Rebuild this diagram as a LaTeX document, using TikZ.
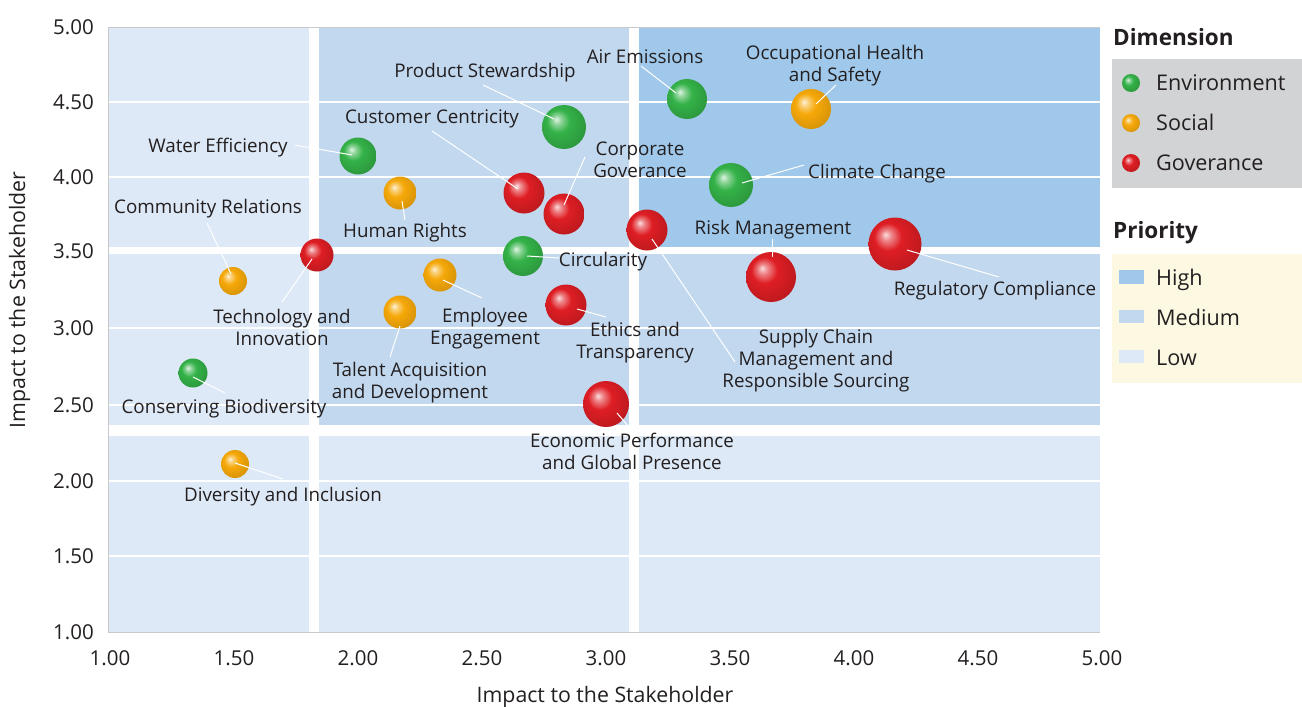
\documentclass[tikz,border=0pt]{standalone}
\usepackage{fontspec}
\setmainfont{Open Sans}
\definecolor{lowc}{RGB}{221,233,246}
\definecolor{medc}{RGB}{194,216,239}
\definecolor{highc}{RGB}{159,200,234}
\definecolor{framec}{RGB}{200,201,205}
\definecolor{txt}{RGB}{35,31,32}
\definecolor{legg}{RGB}{209,211,212}
\definecolor{legc}{RGB}{253,248,225}
\definecolor{envc}{RGB}{52,178,72}
\definecolor{socc}{RGB}{245,168,8}
\definecolor{govc}{RGB}{222,30,36}
\pgfdeclareradialshading{envball}{\pgfpoint{-9bp}{9bp}}{color(0bp)=(envc!15!white); color(5bp)=(envc!55!white); color(13bp)=(envc); color(30bp)=(envc!85!black); color(40bp)=(envc!72!black); color(50bp)=(envc!72!black)}
\pgfdeclareradialshading{socball}{\pgfpoint{-9bp}{9bp}}{color(0bp)=(socc!15!white); color(5bp)=(socc!55!white); color(13bp)=(socc); color(30bp)=(socc!88!black); color(40bp)=(socc!80!black); color(50bp)=(socc!80!black)}
\pgfdeclareradialshading{govball}{\pgfpoint{-9bp}{9bp}}{color(0bp)=(govc!15!white); color(5bp)=(govc!55!white); color(13bp)=(govc); color(30bp)=(govc!85!black); color(40bp)=(govc!75!black); color(50bp)=(govc!75!black)}
\tikzset{
  envb/.style={circle, inner sep=0pt, minimum size=#1, shading=envball},
  socb/.style={circle, inner sep=0pt, minimum size=#1, shading=socball},
  govb/.style={circle, inner sep=0pt, minimum size=#1, shading=govball},
  lbl/.style={text=txt, font=\fontsize{18.8}{22}\selectfont, align=center, anchor=base, inner sep=0pt},
  tick/.style={text=txt, font=\fontsize{20.5}{24}\selectfont, inner sep=0pt},
  axtitle/.style={text=txt, font=\fontsize{21.3}{24}\selectfont, inner sep=0pt, anchor=base},
  legtitle/.style={text=txt, font=\fontsize{22.5}{26}\selectfont\bfseries, inner sep=0pt, anchor=base west},
  legtext/.style={text=txt, font=\fontsize{21.6}{25}\selectfont, inner sep=0pt, anchor=base west},
  lead/.style={white, line width=1pt},
  gridl/.style={white, line width=1.3pt},
  band/.style={fill=white, draw=none},
}
\begin{document}
\begin{tikzpicture}[x=1pt,y=-1pt]
\useasboundingbox (0,0) rectangle (1302,707);
% regions
\fill[lowc] (108,27) rectangle (1100,632);
\fill[medc] (319,27) rectangle (629,247);
\fill[medc] (319,254) rectangle (1100,425);
\fill[highc] (639,27) rectangle (1100,247);
% grid lines
\foreach \gy in {102,177,328,405,481,556} \draw[gridl] (108,\gy) -- (1100,\gy);
% white bands
\fill[band] (309,27) rectangle (319,632);
\fill[band] (629,27) rectangle (639,632);
\fill[band] (108,247) rectangle (1100,254);
\fill[band] (108,425) rectangle (1100,436);
% frame
\draw[framec, line width=1pt] (1100,27) -- (108,27) -- (108,632) -- (1100,632);
% y ticks
\foreach \v/\py in {5.00/27,4.50/102,4.00/177,3.50/251,3.00/328,2.50/405,2.00/481,1.50/556,1.00/632}
  \node[tick, anchor=east] (yt\py) at (94,\py) {\v};
% x ticks
\foreach \v/\px in {1.00/110,1.50/234,2.00/358,2.50/482,3.00/606,3.50/730,4.00/854,4.50/978,5.00/1102}
  \node[tick, anchor=base] (xt\px) at (\px,665) {\v};
\node[axtitle] (xtitle) at (605,702) {Impact to the Stakeholder};
\node[axtitle, rotate=90] (ytitle) at (25,300) {Impact to the Stakeholder};
% bubbles
\node[envb=40] (ae) at (687,99) {};
\node[socb=40] (oh) at (811,109) {};
\node[envb=44] (ps) at (564,127) {};
\node[envb=44] (cc) at (731,185) {};
\node[envb=40] (ci) at (523,256) {};
\node[envb=37] (we) at (358,156) {};
\node[envb=29] (cb) at (193,373) {};
\node[socb=33] (hr) at (400,193) {};
\node[socb=28] (cr) at (233,281) {};
\node[socb=33] (ee) at (440,275) {};
\node[socb=33] (ta) at (400,312) {};
\node[socb=28] (di) at (235,464) {};
\node[govb=41] (cu) at (524,193) {};
\node[govb=41] (cg) at (564,214) {};
\node[govb=50] (rm) at (771,277) {};
\node[govb=41] (sc) at (647,230) {};
\node[govb=53] (rc) at (895,244) {};
\node[govb=33] (ti) at (317,255) {};
\node[govb=41] (et) at (566,305) {};
\node[govb=46] (ep) at (606,404) {};
% leader end points
\coordinate (ae1) at (641,66);  \coordinate (ae2) at (676,93);
\coordinate (oh1) at (836,85);  \coordinate (oh2) at (816,104);
\coordinate (ps1) at (483,85);  \coordinate (ps2) at (554,119);
\coordinate (cu1) at (432,131); \coordinate (cu2) at (518,189);
\coordinate (cg1) at (585,157); \coordinate (cg2) at (564,205);
\coordinate (cc1) at (804,165); \coordinate (cc2) at (742,183);
\coordinate (rm1) at (772,239); \coordinate (rm2) at (772,257);
\coordinate (ci1) at (559,258); \coordinate (ci2) at (527,256);
\coordinate (rc1) at (999,277); \coordinate (rc2) at (907,250);
\coordinate (sc1) at (735,362); \coordinate (sc2) at (652,239);
\coordinate (we1) at (295,145); \coordinate (we2) at (352,155);
\coordinate (hr1) at (405,220); \coordinate (hr2) at (402,201);
\coordinate (ti1) at (282,302); \coordinate (ti2) at (312,259);
\coordinate (cr1) at (207,223); \coordinate (cr2) at (231,274);
\coordinate (ee1) at (482,298); \coordinate (ee2) at (443,280);
\coordinate (ta1) at (390,357); \coordinate (ta2) at (400,326);
\coordinate (et1) at (606,317); \coordinate (et2) at (577,309);
\coordinate (ep1) at (628,426); \coordinate (ep2) at (617,413);
\coordinate (cb1) at (225,393); \coordinate (cb2) at (193,377);
\coordinate (di1) at (283,479); \coordinate (di2) at (235,463);
\foreach \k in {ae,oh,ps,cu,cg,cc,rm,ci,rc,sc,we,hr,ti,cr,ee,ta,et,ep,cb,di}
  \draw[lead] (\k1) -- (\k2);
% labels (base anchor = baseline of the last line)
\node[lbl] (ael) at (645,63) {Air Emissions};
\node[lbl] (ohl) at (835,81) {Occupational Health\\and Safety};
\node[lbl] (psl) at (485,77) {Product Stewardship};
\node[lbl] (cul) at (432,123) {Customer Centricity};
\node[lbl] (cgl) at (640,177) {Corporate\\Goverance};
\node[lbl] (ccl) at (877,178) {Climate Change};
\node[lbl] (rml) at (773,234) {Risk Management};
\node[lbl] (cil) at (603,266) {Circularity};
\node[lbl] (rcl) at (995,295) {Regulatory Compliance};
\node[lbl] (scl) at (816,387) {Supply Chain\\Management and\\Responsible Sourcing};
\node[lbl] (wel) at (218,152) {Water Efficiency};
\node[lbl] (hrl) at (405,237) {Human Rights};
\node[lbl] (crl) at (208,213) {Community Relations};
\node[lbl] (til) at (282,345) {Technology and\\Innovation};
\node[lbl] (cbl) at (224,413) {Conserving Biodiversity};
\node[lbl] (eel) at (485,344) {Employee\\Engagement};
\node[lbl] (tal) at (410,398) {Talent Acquisition\\and Development};
\node[lbl] (etl) at (635,358) {Ethics and\\Transparency};
\node[lbl] (epl) at (632,469) {Economic Performance\\and Global Presence};
\node[lbl] (dil) at (283,501) {Diversity and Inclusion};
% legend: dimension
\node[legtitle] (dimt) at (1113,45) {Dimension};
\fill[legg] (1112,59) rectangle (1302,188);
\node[envb=18] (lenv) at (1131,83) {};
\node[socb=18] (lsoc) at (1131,123) {};
\node[govb=18] (lgov) at (1131,163) {};
\node[legtext] (tenv) at (1156,90) {Environment};
\node[legtext] (tsoc) at (1156,130) {Social};
\node[legtext] (tgov) at (1156,170) {Goverance};
% legend: priority
\node[legtitle] (prit) at (1113,238) {Priority};
\fill[legc] (1112,254) rectangle (1302,383);
\fill[highc] (1119,270) rectangle (1144,284);
\fill[medc] (1119,310) rectangle (1144,323);
\fill[lowc] (1119,350) rectangle (1144,363);
\node[legtext] (thigh) at (1156,285) {High};
\node[legtext] (tmed) at (1156,325) {Medium};
\node[legtext] (tlow) at (1156,365) {Low};
\end{tikzpicture}
\end{document}
